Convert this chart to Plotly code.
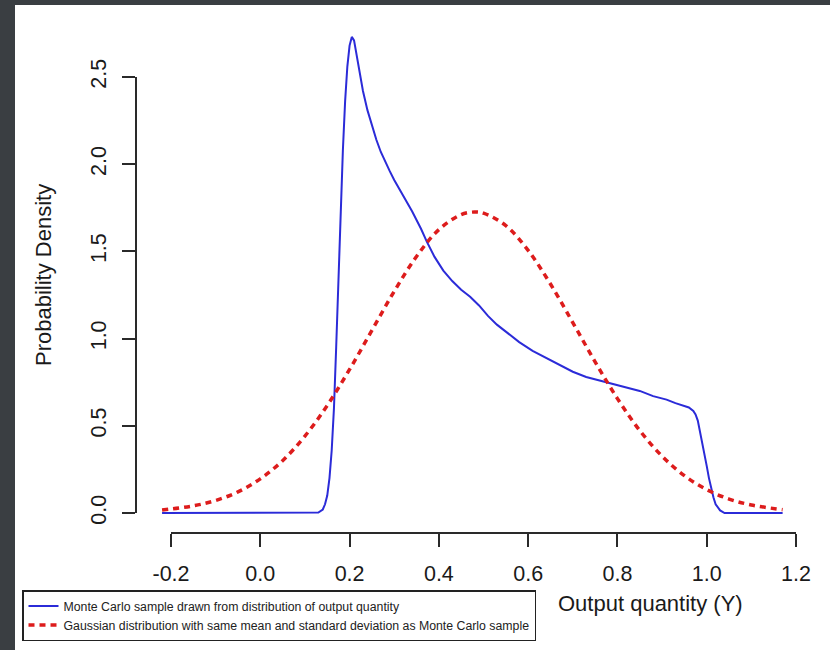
import plotly.graph_objects as go

W, H = 830, 650

# ---- data ----
mc_x = [-0.22, 0.12, 0.13, 0.14, 0.145, 0.15, 0.155, 0.16, 0.165, 0.17, 0.175, 0.18, 0.185,
        0.19, 0.195, 0.20, 0.205, 0.21, 0.215, 0.22, 0.23, 0.24, 0.25, 0.26, 0.27, 0.28, 0.29,
        0.30, 0.32, 0.34, 0.36, 0.373, 0.39, 0.41, 0.43, 0.45, 0.47, 0.49, 0.51, 0.53, 0.55,
        0.58, 0.61, 0.64, 0.67, 0.70, 0.73, 0.76, 0.79, 0.82, 0.85, 0.88, 0.91, 0.93, 0.95,
        0.96, 0.97, 0.975, 0.98, 0.985, 0.99, 0.995, 1.00, 1.005, 1.01, 1.015, 1.02, 1.03,
        1.04, 1.17]
mc_y = [0.0, 0.0, 0.003, 0.02, 0.05, 0.10, 0.20, 0.36, 0.60, 0.95, 1.35, 1.75, 2.08,
        2.36, 2.56, 2.68, 2.73, 2.71, 2.64, 2.56, 2.42, 2.31, 2.22, 2.14, 2.07, 2.01, 1.96,
        1.91, 1.82, 1.73, 1.63, 1.556, 1.47, 1.39, 1.33, 1.28, 1.24, 1.19, 1.13, 1.08, 1.04,
        0.98, 0.93, 0.89, 0.85, 0.81, 0.78, 0.76, 0.74, 0.72, 0.70, 0.67, 0.65, 0.63, 0.615,
        0.605, 0.585, 0.565, 0.53, 0.47, 0.41, 0.34, 0.27, 0.20, 0.14, 0.09, 0.05, 0.015,
        0.0, 0.0]

gauss_x = [-0.22, -0.15, -0.10, -0.05, 0.00, 0.05, 0.10, 0.15, 0.20, 0.25, 0.30, 0.35,
           0.40, 0.45, 0.48, 0.50, 0.55, 0.60, 0.65, 0.70, 0.75, 0.80, 0.85, 0.90, 0.95,
           1.00, 1.05, 1.10, 1.17]
gauss_y = [0.017, 0.041, 0.072, 0.121, 0.196, 0.300, 0.441, 0.617, 0.823, 1.047, 1.271,
           1.471, 1.625, 1.711, 1.726, 1.719, 1.648, 1.506, 1.313, 1.092, 0.867, 0.656,
           0.473, 0.326, 0.214, 0.134, 0.080, 0.046, 0.019]

x_ticks = [-0.2, 0.0, 0.2, 0.4, 0.6, 0.8, 1.0, 1.2]
x_tick_labels = ["-0.2", "0.0", "0.2", "0.4", "0.6", "0.8", "1.0", "1.2"]
y_ticks = [0.0, 0.5, 1.0, 1.5, 2.0, 2.5]
y_tick_labels = ["0.0", "0.5", "1.0", "1.5", "2.0", "2.5"]

series_names = ["Monte Carlo sample drawn from distribution of output quantity",
                "Gaussian distribution with same mean and standard deviation as Monte Carlo sample"]

# ---- pixel geometry (R-style detached axes) ----
X_LO_PX, X_HI_PX = 171, 796     # pixel of first / last x tick
Y_LO_PX, Y_HI_PX = 513, 77      # pixel (from top) of first / last y tick
ppu_x = (X_HI_PX - X_LO_PX) / (x_ticks[-1] - x_ticks[0])
ppu_y = (Y_LO_PX - Y_HI_PX) / (y_ticks[-1] - y_ticks[0])

def xval(px):
    return x_ticks[0] + (px - X_LO_PX) / ppu_x

def yval(py):
    return y_ticks[0] + (Y_LO_PX - py) / ppu_y

DX0, DX1 = 137, 815
DY0, DY1 = 25, 530

FONT = "Liberation Sans, Arial, Helvetica, sans-serif"
AX = "#2a2a2a"

fig = go.Figure()
fig.add_trace(go.Scatter(x=mc_x, y=mc_y, mode="lines", name=series_names[0],
                         line=dict(color="#2b2bd8", width=2)))
fig.add_trace(go.Scatter(x=gauss_x, y=gauss_y, mode="lines", name=series_names[1],
                         line=dict(color="#dd1c1c", width=3.5, dash="6px,5px"),
                         line_shape="spline"))
# carrier for the visible R-style axes
fig.add_trace(go.Scatter(x=[], y=[], xaxis="x2", yaxis="y2", showlegend=False,
                         hoverinfo="skip"))

fig.update_layout(
    width=W, height=H,
    margin=dict(l=0, r=0, t=0, b=0, pad=0, autoexpand=False),
    paper_bgcolor="#3a3e42",
    plot_bgcolor="rgba(0,0,0,0)",
    font=dict(family=FONT, color="#1a1a1a"),
    xaxis=dict(domain=[DX0 / W, DX1 / W], range=[xval(DX0), xval(DX1)], visible=False,
               fixedrange=True),
    yaxis=dict(domain=[1 - DY1 / H, 1 - DY0 / H], range=[yval(DY1), yval(DY0)],
               visible=False, fixedrange=True),
    xaxis2=dict(domain=[X_LO_PX / W, X_HI_PX / W], range=[x_ticks[0], x_ticks[-1]],
                anchor="free", position=1 - 533 / H, automargin=False,
                showline=True, linecolor=AX, linewidth=1.5,
                ticks="outside", ticklen=13, tickwidth=1.5, tickcolor=AX,
                tickvals=x_ticks, ticktext=x_tick_labels,
                tickfont=dict(size=21.5, family=FONT, color="#1a1a1a"),
                ticklabelstandoff=8,
                showgrid=False, zeroline=False),
    yaxis2=dict(domain=[1 - Y_LO_PX / H, 1 - Y_HI_PX / H], range=[y_ticks[0], y_ticks[-1]],
                anchor="free", position=136 / W, automargin=False,
                showline=True, linecolor=AX, linewidth=1.5,
                ticks="outside", ticklen=13, tickwidth=1.5, tickcolor=AX,
                tickvals=y_ticks, ticktext=y_tick_labels, tickangle=-90,
                tickfont=dict(size=21.5, family=FONT, color="#1a1a1a"),
                ticklabelstandoff=8,
                showgrid=False, zeroline=False),
    showlegend=True,
    legend=dict(x=22 / W, y=1 - 590 / H, xanchor="left", yanchor="top",
                bgcolor="white", bordercolor="#222222", borderwidth=1.5,
                font=dict(size=12.3, family=FONT, color="#222222"),
                itemwidth=30, tracegroupgap=0),
    shapes=[dict(type="rect", xref="paper", yref="paper", x0=15 / W, x1=1,
                 y0=0, y1=1 - 5 / H, fillcolor="white", line=dict(width=0),
                 layer="below")],
    annotations=[
        dict(text="Output quantity (Y)", xref="paper", yref="paper",
             x=650 / W, y=1 - 603 / H, showarrow=False, xanchor="center",
             yanchor="middle", font=dict(size=22, family=FONT, color="#1a1a1a")),
        dict(text="Probability Density", xref="paper", yref="paper",
             x=43 / W, y=1 - 275 / H, showarrow=False, textangle=-90,
             xanchor="center", yanchor="middle",
             font=dict(size=22, family=FONT, color="#1a1a1a")),
    ],
)

fig.write_html("out.html")
